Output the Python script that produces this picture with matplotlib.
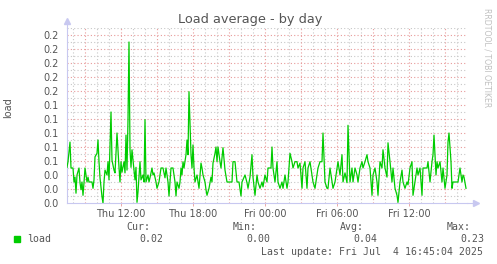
import numpy as np
import matplotlib
matplotlib.use("Agg")
import matplotlib.pyplot as plt
from matplotlib.ticker import FixedLocator, MultipleLocator, FuncFormatter

# === dados (minutos desde Qui 00:00, carga) ===
minutes = [450, 455, 465, 470, 480, 485, 490, 495, 500, 510, 515, 520, 525, 530, 535, 540,
           550, 555, 560, 575, 580, 585, 590, 600, 605, 610, 615, 625, 630, 635, 640, 650,
           655, 660, 670, 675, 685, 690, 695, 700, 710, 715, 720, 725, 735, 740, 745, 750,
           755, 760, 765, 770, 775, 780, 790, 795, 800, 805, 815, 820, 830, 835, 840, 845,
           855, 860, 865, 875, 880, 885, 895, 900, 910, 920, 930, 940, 945, 955, 960, 970,
           980, 990, 995, 1000, 1010, 1015, 1020, 1025, 1030, 1035, 1045, 1050, 1055, 1060,
           1070, 1075, 1080, 1085, 1090, 1100, 1105, 1110, 1120, 1125, 1130, 1140, 1145,
           1150, 1160, 1170, 1175, 1180, 1190, 1195, 1200, 1205, 1215, 1220, 1230, 1240,
           1250, 1260, 1265, 1275, 1280, 1290, 1300, 1310, 1320, 1325, 1340, 1350, 1355,
           1365, 1375, 1380, 1390, 1400, 1405, 1415, 1425, 1430, 1440, 1450, 1455, 1470,
           1475, 1480, 1490, 1500, 1505, 1515, 1525, 1530, 1540, 1550, 1555, 1565, 1575,
           1580, 1590, 1600, 1605, 1615, 1625, 1630, 1640, 1650, 1655, 1665, 1675, 1680,
           1690, 1700, 1705, 1715, 1725, 1730, 1740, 1750, 1755, 1765, 1775, 1780, 1790,
           1800, 1805, 1815, 1825, 1830, 1840, 1850, 1855, 1865, 1875, 1880, 1890, 1900,
           1905, 1915, 1925, 1930, 1940, 1950, 1955, 1965, 1975, 1980, 1990, 2000, 2005,
           2015, 2025, 2030, 2040, 2050, 2055, 2065, 2075, 2080, 2090, 2100, 2105, 2115,
           2125, 2130, 2140, 2150, 2155, 2165, 2175, 2180, 2190, 2200, 2205, 2215, 2225,
           2230, 2240, 2250, 2255, 2265, 2275, 2280, 2285, 2295, 2300, 2305, 2315, 2325,
           2330, 2340, 2350, 2355, 2360, 2370, 2375, 2380, 2390, 2400, 2405, 2415, 2425,
           2430, 2435, 2445]
load = [0.051, 0.059, 0.087, 0.050, 0.050, 0.030, 0.037, 0.014, 0.040, 0.050, 0.029, 0.019,
        0.030, 0.011, 0.029, 0.050, 0.030, 0.037, 0.030, 0.030, 0.021, 0.033, 0.066, 0.071,
        0.090, 0.059, 0.036, 0.009, 0.000, 0.030, 0.047, 0.040, 0.059, 0.033, 0.130, 0.061,
        0.047, 0.043, 0.071, 0.100, 0.051, 0.030, 0.059, 0.044, 0.059, 0.043, 0.097, 0.047,
        0.119, 0.230, 0.076, 0.051, 0.076, 0.061, 0.033, 0.051, 0.001, 0.016, 0.059, 0.033,
        0.040, 0.030, 0.119, 0.030, 0.040, 0.030, 0.036, 0.050, 0.040, 0.043, 0.030, 0.021,
        0.030, 0.050, 0.050, 0.036, 0.050, 0.030, 0.010, 0.050, 0.050, 0.030, 0.010, 0.030,
        0.021, 0.030, 0.050, 0.040, 0.059, 0.050, 0.069, 0.090, 0.069, 0.159, 0.069, 0.050,
        0.083, 0.050, 0.030, 0.040, 0.030, 0.021, 0.057, 0.050, 0.040, 0.030, 0.019, 0.011,
        0.021, 0.037, 0.030, 0.057, 0.071, 0.080, 0.059, 0.080, 0.059, 0.050, 0.079, 0.047,
        0.030, 0.030, 0.030, 0.030, 0.059, 0.059, 0.030, 0.030, 0.010, 0.030, 0.040, 0.029,
        0.021, 0.037, 0.069, 0.037, 0.011, 0.040, 0.030, 0.021, 0.030, 0.023, 0.040, 0.030,
        0.050, 0.050, 0.080, 0.050, 0.030, 0.059, 0.030, 0.021, 0.030, 0.021, 0.040, 0.021,
        0.030, 0.071, 0.059, 0.050, 0.059, 0.059, 0.050, 0.057, 0.021, 0.050, 0.059, 0.021,
        0.050, 0.059, 0.040, 0.030, 0.021, 0.040, 0.050, 0.059, 0.059, 0.100, 0.030, 0.021,
        0.021, 0.050, 0.030, 0.021, 0.030, 0.050, 0.059, 0.040, 0.069, 0.030, 0.043, 0.029,
        0.111, 0.030, 0.050, 0.030, 0.050, 0.040, 0.030, 0.050, 0.059, 0.050, 0.059, 0.069,
        0.059, 0.050, 0.011, 0.040, 0.050, 0.030, 0.011, 0.059, 0.050, 0.076, 0.050, 0.037,
        0.086, 0.059, 0.030, 0.050, 0.021, 0.011, 0.001, 0.030, 0.047, 0.030, 0.021, 0.030,
        0.026, 0.050, 0.059, 0.011, 0.030, 0.050, 0.040, 0.050, 0.011, 0.050, 0.050, 0.050,
        0.059, 0.030, 0.059, 0.069, 0.097, 0.040, 0.059, 0.050, 0.059, 0.030, 0.050, 0.021,
        0.040, 0.087, 0.100, 0.059, 0.021, 0.030, 0.030, 0.030, 0.030, 0.050, 0.030, 0.040,
        0.037, 0.021]

x_ticks = [720, 1080, 1440, 1800, 2160]
x_labels = ["Thu 12:00", "Thu 18:00", "Fri 00:00", "Fri 06:00", "Fri 12:00"]
stat_names = ["Cur:", "Min:", "Avg:", "Max:"]
stat_values = ["0.02", "0.00", "0.04", "0.23"]
last_update = "Last update: Fri Jul  4 16:45:04 2025"

W, H = 497, 264
fig = plt.figure(figsize=(W / 100, H / 100), dpi=100, facecolor="white")
ax = fig.add_axes([67 / W, (H - 203) / H, 400 / W, 175 / H])
ax.set_facecolor("white")

ax.set_xlim(450, 2450)
ax.set_ylim(0, 0.25)

# grade: cinza (menor) e vermelho (maior)
grey, red = "#c8c8c8", "#e89a9a"
for m in range(480, 2450, 60):
    if m % 180 != 0:
        ax.axvline(m, color=grey, lw=0.8, ls=(0, (1, 2)), zorder=1)
for m in range(540, 2450, 180):
    ax.axvline(m, color=red, lw=0.8, ls=(0, (1, 2)), zorder=1.5)
for i in range(1, 26):
    y = i * 0.01
    if i % 2:
        ax.axhline(y, color=grey, lw=0.8, ls=(0, (1, 2)), zorder=1)
    else:
        ax.axhline(y, color=red, lw=0.8, ls=(0, (1, 2)), zorder=1.5)

ax.plot(minutes, load, color="#00cc00", lw=0.9, zorder=3)

# eixos
for s in ["top", "right"]:
    ax.spines[s].set_visible(False)
for s in ["left", "bottom"]:
    ax.spines[s].set_color("#c8c8f0")
    ax.spines[s].set_linewidth(0.8)
ax.plot([1.0, 1.02], [0, 0], color="#c8c8f0", lw=0.8, transform=ax.transAxes, clip_on=False)
ax.plot([0, 0], [1.0, 1.035], color="#c8c8f0", lw=0.8, transform=ax.transAxes, clip_on=False)
ax.plot(1.022, 0, marker=">", ms=4, color="#c8c8f0", transform=ax.transAxes, clip_on=False)
ax.plot(0, 1.04, marker="^", ms=4, color="#c8c8f0", transform=ax.transAxes, clip_on=False)

ax.xaxis.set_major_locator(FixedLocator(x_ticks))
ax.set_xticklabels(x_labels)
ax.yaxis.set_major_locator(MultipleLocator(0.02))
ax.yaxis.set_major_formatter(FuncFormatter(lambda v, p: f"{v:.1f}"))
ax.set_ylim(0, 0.25)
ax.tick_params(axis="both", length=2, width=0.6, color=red, labelsize=7,
               labelcolor="#555555", pad=2)
ax.tick_params(axis="y", length=0, pad=6)

fig.text(250 / W, 1 - 20 / H, "Load average - by day", ha="center", va="center",
         fontsize=9.3, color="#555555")
fig.text(8 / W, 1 - 108 / H, "load", rotation=90, ha="center", va="center",
         fontsize=7, color="#555555")
fig.text(487 / W, 1 - 58 / H, "RRDTOOL / TOBI OETIKER", rotation=270, ha="center",
         va="center", fontsize=5.6, color="#c0c0c0")

# legenda
mono = "DejaVu Sans Mono"
fig.patches.append(plt.Rectangle((14 / W, 1 - 242 / H), 6 / W, 6 / H, color="#00cc00",
                                 transform=fig.transFigure))
fig.text(27 / W, 1 - 239.5 / H, "load", ha="left", va="center", fontsize=7.1,
         family=mono, color="#555555")
for i, (name, val) in enumerate(zip(stat_names, stat_values)):
    xr = 150 + i * 107
    fig.text(xr / W, 1 - 227 / H, name, ha="right", va="center", fontsize=7.1,
             family=mono, color="#555555")
    fig.text((xr + 13) / W, 1 - 239.5 / H, val, ha="right", va="center", fontsize=7.1,
             family=mono, color="#555555")
fig.text(483 / W, 1 - 252 / H, last_update, ha="right", va="center", fontsize=7.1,
         family=mono, color="#555555")

fig.savefig("out.png", dpi=100, facecolor="white")
